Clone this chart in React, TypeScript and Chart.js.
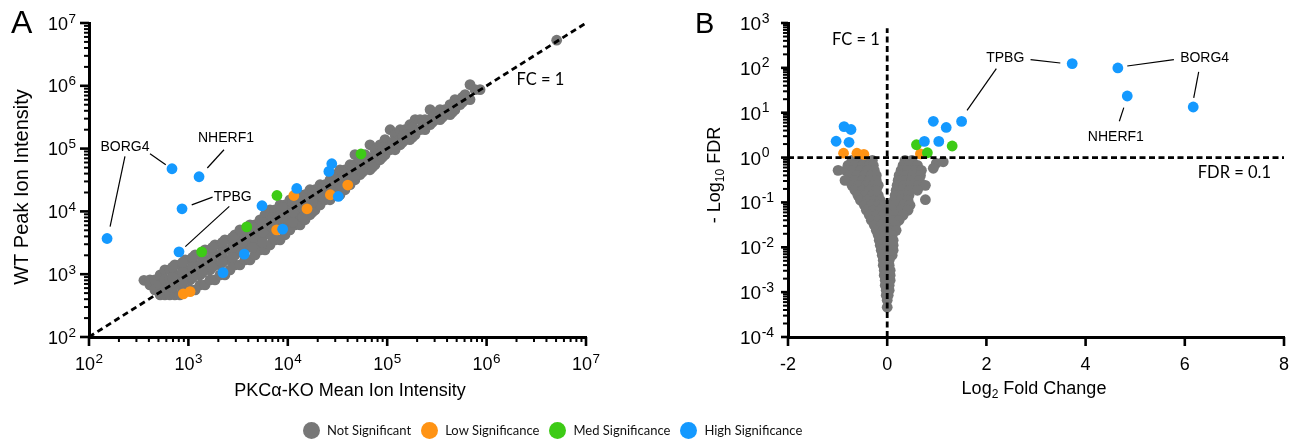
import React, { useEffect, useRef } from "react";
import { Chart, registerables } from "chart.js";

Chart.register(...registerables);

type Pt = [number, number];

// ---------- shared ----------
const SERIES_NAMES = ["Not Significant", "Low Significance", "Med Significance", "High Significance"];
const SERIES_COLORS = ["#777777", "#FF9314", "#3DCB16", "#1499FF"];

// ---------- panel A : WT vs PKCα-KO intensity ----------
const A_DECADES = [1e2, 1e3, 1e4, 1e5, 1e6, 1e7];
const A_DECADE_EXPONENTS = ["2", "3", "4", "5", "6", "7"];
const A_X_TITLE = "PKCα-KO Mean Ion Intensity";
const A_Y_TITLE = "WT Peak Ion Intensity";

const A_NOT_SIG: Pt[] = [
  [357, 800],
  [410, 811], [410, 675],
  [460, 811], [460, 562],
  [520, 975], [520, 675], [520, 468],
  [580, 1170], [580, 811], [580, 562], [580, 468],
  [650, 1170], [650, 811], [650, 562], [650, 468],
  [730, 1410], [730, 975], [730, 675], [730, 468],
  [820, 1410], [820, 975], [820, 675], [820, 468],
  [930, 1690], [930, 1170], [930, 811], [930, 562],
  [1040, 1690], [1040, 1170], [1040, 811], [1040, 562],
  [1170, 2030], [1170, 1410], [1170, 975], [1170, 562],
  [1310, 2030], [1310, 1410], [1310, 975], [1310, 675],
  [1470, 2440], [1470, 1690], [1470, 1170], [1470, 675],
  [1650, 2440], [1650, 1690], [1650, 1170], [1650, 811],
  [1850, 2930], [1850, 2030], [1850, 1410], [1850, 811],
  [2080, 2930], [2080, 2030], [2080, 1410], [2080, 975],
  [2330, 3520], [2330, 2440], [2330, 1690], [2330, 975],
  [2620, 3520], [2620, 2440], [2620, 1690], [2620, 1170],
  [2940, 4240], [2940, 2930], [2940, 2030], [2940, 1410],
  [3300, 5090], [3300, 3520], [3300, 2440], [3300, 1410],
  [3710, 5090], [3710, 3520], [3710, 2440], [3710, 1690],
  [4170, 6110], [4170, 4240], [4170, 2930], [4170, 1690],
  [4680, 6110], [4680, 4240], [4680, 2930], [4680, 2030],
  [5250, 7350], [5250, 5090], [5250, 3520], [5250, 2440],
  [5900, 8830], [5900, 6110], [5900, 4240], [5900, 2440],
  [6620, 10600], [6620, 7350], [6620, 5090], [6620, 2930],
  [7430, 10600], [7430, 7350], [7430, 5090], [7430, 3520],
  [8360, 12700], [8360, 8830], [8360, 6110], [8360, 3520],
  [9380, 12700], [9380, 8830], [9380, 6110], [9380, 4240],
  [10500, 15300], [10500, 10600], [10500, 7350], [10500, 5090],
  [11800, 15300], [11800, 10600], [11800, 7350], [11800, 6110],
  [13300, 18400], [13300, 12700], [13300, 8830], [13300, 6110],
  [14900, 18400], [14900, 12700], [14900, 8830], [14900, 7350],
  [16700, 22100], [16700, 15300], [16700, 10600], [16700, 8830],
  [18800, 22100], [18800, 15300], [18800, 10600],
  [21100, 26600], [21100, 18400], [21100, 12700],
  [23700, 26600], [23700, 18400], [23700, 15300],
  [26600, 31900], [26600, 22100], [26600, 15300],
  [29900, 38400], [29900, 26600], [29900, 18400],
  [33500, 46000], [33500, 31900], [33500, 22100], [33500, 18400],
  [37600, 46000], [37600, 31900], [37600, 22100],
  [42300, 55300], [42300, 38400], [42300, 26600],
  [47400, 80000], [47400, 55300], [47400, 38400], [47400, 31900],
  [53200, 66500], [53200, 46000], [53200, 38400],
  [59800, 80000], [59800, 55300], [59800, 46000],
  [67100, 115000], [67100, 66500], [67100, 46000],
  [75300, 95900], [75300, 66500], [75300, 55300],
  [84700, 115000], [84700, 80000], [84700, 66500],
  [95100, 139000], [95100, 95900], [95100, 80000],
  [107000, 200000], [107000, 115000], [107000, 95900],
  [120000, 167000], [120000, 115000], [120000, 95900],
  [135000, 200000], [135000, 139000], [135000, 115000],
  [151000, 200000], [151000, 167000], [151000, 139000],
  [169000, 240000], [169000, 167000], [169000, 139000],
  [191000, 289000], [191000, 200000], [191000, 167000],
  [214000, 289000], [214000, 200000],
  [240000, 289000], [240000, 200000],
  [270000, 417000], [270000, 289000], [270000, 240000],
  [303000, 348000], [303000, 289000],
  [340000, 417000], [340000, 289000],
  [381000, 417000], [381000, 348000],
  [429000, 501000], [429000, 348000],
  [481000, 603000], [481000, 417000],
  [540000, 603000], [540000, 501000],
  [607000, 724000], [607000, 603000],
  [681000, 1045000], [681000, 603000],
  [764000, 869000],
  [859000, 869000],
  [5070000, 5320000],
  // in-between fill points of the dense band
  [690, 1290], [690, 890], [690, 615],
  [875, 1540], [875, 1070], [875, 740],
  [1100, 1850], [1100, 1290], [1100, 890],
  [1390, 2230], [1390, 1540], [1390, 1070],
  [1750, 2680], [1750, 1850], [1750, 1290],
  [2200, 3220], [2200, 2230], [2200, 1540],
  [2780, 3870], [2780, 2680], [2780, 1850],
  [3500, 4650], [3500, 3220], [3500, 2230],
  [4420, 5580], [4420, 3870], [4420, 2680],
  [5570, 6710], [5570, 4650], [5570, 3220],
  [7020, 8060], [7020, 5580], [7020, 3870],
  [8860, 11600], [8860, 8060], [8860, 5580],
  [11200, 13900], [11200, 9680], [11200, 6710],
  [14100, 16800], [14100, 11600], [14100, 8060],
  [17700, 20200], [17700, 13900], [17700, 9680],
  [22400, 24200], [22400, 16800],
  [28200, 29100], [28200, 20200],
  [35500, 42000], [35500, 24200],
  [44800, 50400], [44800, 35000],
  [56400, 60700], [56400, 42000],
  [71100, 72900], [71100, 50400],
  [89700, 105000], [89700, 72900],
  [113000, 127000], [113000, 105000],
  [143000, 152000], [143000, 127000],
  [180000, 219000], [180000, 152000],
  [227000, 263000], [227000, 219000],
  [286000, 316000], [286000, 263000],
  [360000, 380000], [360000, 316000],
  [454000, 457000], [454000, 380000],
  [573000, 660000], [573000, 549000],
];
const A_LOW_SIG: Pt[] = [[889, 485], [1040, 528], [7730, 5090], [11500, 17900], [15600, 11000], [26800, 18400], [40100, 26300]];
const A_MED_SIG: Pt[] = [[1360, 2270], [3860, 5680], [7780, 17900], [54500, 82000]];
const A_HIGH_SIG: Pt[] = [
  [152, 3700], [684, 47800], [1280, 35600], [863, 11000], [804, 2270], [2230, 1060], [3650, 2090],
  [5500, 12300], [8870, 5220], [12300, 23200], [25900, 43300], [27700, 57400], [32200, 17300],
];
const A_FC_LINE: Pt[] = [[1e2, 1e2], [1e7, 1e7]];
const A_GENE_LABELS = [
  { text: "BORG4", x: 230, y: 107000 },
  { text: "NHERF1", x: 2390, y: 149000 },
  { text: "TPBG", x: 2790, y: 17100 },
];
const A_NOTE_LABELS = [{ text: "FC = 1", x: 3.48e6, y: 1.26e6 }];
const A_LEADERS: [Pt, Pt][] = [
  [[411, 83000], [592, 55300]],
  [[230, 75200], [163, 5740]],
  [[2280, 95900], [1550, 49100]],
  [[1750, 16900], [1080, 12700]],
  [[2580, 12000], [931, 2750]],
];

// ---------- panel B : volcano ----------
const B_X_TICKS = [-2, 0, 2, 4, 6, 8];
const B_DECADES = [1e-4, 1e-3, 1e-2, 1e-1, 1e0, 1e1, 1e2, 1e3];
const B_DECADE_EXPONENTS = ["-4", "-3", "-2", "-1", "0", "1", "2", "3"];
const B_NOT_SIG: Pt[] = [
  [-0.71, 0.87], [-0.57, 0.87], [-0.42, 0.87], [-0.30, 0.87], [0.36, 0.87], [0.50, 0.87],
  [-0.79, 0.67], [-0.65, 0.67], [-0.50, 0.67], [-0.36, 0.67], [-0.28, 0.67], [0.32, 0.67], [0.46, 0.67], [0.61, 0.67],
  [-0.99, 0.52], [-0.83, 0.52], [-0.69, 0.52], [-0.54, 0.52], [-0.40, 0.52], [-0.26, 0.52], [0.28, 0.52], [0.42, 0.52], [0.57, 0.52], [0.69, 0.52],
  [-0.75, 0.40], [-0.61, 0.40], [-0.46, 0.40], [-0.32, 0.40], [-0.22, 0.40], [0.24, 0.40], [0.38, 0.40], [0.52, 0.40], [0.67, 0.40],
  [-0.85, 0.31], [-0.65, 0.31], [-0.50, 0.31], [-0.36, 0.31], [-0.22, 0.31], [0.22, 0.31], [0.36, 0.31], [0.50, 0.31], [0.65, 0.31],
  [-0.71, 0.24], [-0.57, 0.24], [-0.42, 0.24], [-0.28, 0.24], [-0.18, 0.24], [0.20, 0.24], [0.34, 0.24], [0.48, 0.24], [0.63, 0.24], [0.77, 0.24],
  [-0.65, 0.187], [-0.50, 0.187], [-0.36, 0.187], [-0.22, 0.187], [0.18, 0.187], [0.32, 0.187], [0.46, 0.187], [0.61, 0.187],
  [-0.59, 0.144], [-0.44, 0.144], [-0.30, 0.144], [-0.18, 0.144], [0.16, 0.144], [0.30, 0.144], [0.44, 0.144],
  [-0.54, 0.112], [-0.40, 0.112], [-0.26, 0.112], [-0.14, 0.112], [0.14, 0.112], [0.28, 0.112], [0.42, 0.112], [0.77, 0.115],
  [-0.46, 0.0865], [-0.32, 0.0865], [-0.18, 0.0865], [-0.06, 0.0865], [0.06, 0.0865], [0.20, 0.0865], [0.34, 0.0865], [0.46, 0.0865],
  [-0.42, 0.0669], [-0.28, 0.0669], [-0.14, 0.0669], [0, 0.0669], [0.14, 0.0669], [0.28, 0.0669], [0.42, 0.0669],
  [-0.36, 0.0518], [-0.22, 0.0518], [-0.08, 0.0518], [0.06, 0.0518], [0.20, 0.0518], [0.32, 0.0518],
  [-0.32, 0.040], [-0.18, 0.040], [-0.04, 0.040], [0.10, 0.040], [0.24, 0.040],
  [-0.26, 0.031], [-0.12, 0.031], [0.02, 0.031], [0.16, 0.031],
  [-0.22, 0.0239], [-0.08, 0.0239], [0.06, 0.0239], [0.18, 0.0239],
  [-0.18, 0.0185], [-0.04, 0.0185], [0.10, 0.0185],
  [-0.16, 0.0143], [-0.02, 0.0143], [0.12, 0.0143],
  [-0.14, 0.0111], [0, 0.0111], [0.12, 0.0111],
  [-0.12, 0.00858], [0, 0.00858], [0.12, 0.00858],
  [-0.10, 0.00664], [0.02, 0.00664], [0.10, 0.00664],
  [-0.08, 0.00513], [0.04, 0.00513],
  [-0.08, 0.00397], [0.04, 0.00397],
  [-0.06, 0.00307], [0.06, 0.00307],
  [-0.06, 0.00238], [0.06, 0.00238],
  [-0.04, 0.00184], [0.06, 0.00184],
  [-0.04, 0.00142], [0.04, 0.00142],
  [-0.02, 0.0011], [0.04, 0.0011],
  [-0.02, 0.00085], [0.02, 0.00085],
  [0, 0.00066],
  [0, 0.00046],
  [0.99, 0.746], [1.13, 0.806], [0.93, 0.577],
];
const B_LOW_SIG: Pt[] = [[-0.88, 1.25], [-0.61, 1.25], [-0.47, 1.18], [0.67, 1.21]];
const B_MED_SIG: Pt[] = [[0.59, 1.93], [0.81, 1.28], [1.31, 1.81]];
const B_HIGH_SIG: Pt[] = [
  [-0.87, 4.91], [-0.73, 4.23], [-1.03, 2.31], [-0.77, 2.19], [0.93, 6.44], [1.19, 4.69], [1.5, 6.41],
  [0.75, 2.29], [1.04, 2.29], [3.73, 124.6], [4.65, 99.4], [4.84, 23.6], [6.17, 13.4],
];
const B_FC_LINE: Pt[] = [[0, 1e-4], [0, 760]];
const B_FDR_LINE: Pt[] = [[-2, 1], [8, 1]];
const B_GENE_LABELS = [
  { text: "TPBG", x: 2.38, y: 163 },
  { text: "BORG4", x: 6.4, y: 163 },
  { text: "NHERF1", x: 4.61, y: 2.88 },
];
const B_NOTE_LABELS = [
  { text: "FC = 1", x: -0.63, y: 434 },
  { text: "FDR = 0.1", x: 7.0, y: 0.47 },
];
const B_LEADERS: [Pt, Pt][] = [
  [[2.89, 153], [3.49, 128.5]],
  [[2.2, 96.4], [1.61, 11.3]],
  [[4.84, 110], [5.78, 153]],
  [[6.28, 81], [6.18, 21.3]],
  [[4.77, 13.0], [4.68, 6.45]],
];

// ---------- drawing helpers ----------
const ARIAL = '"Liberation Sans", Arial, Helvetica, sans-serif';
const MYRIAD = 'Lato, "Open Sans", sans-serif';

const toXY = (arr: Pt[]) => arr.map(([x, y]) => ({ x, y }));

function pointSet(i: number, data: Pt[]) {
  return {
    type: "scatter",
    label: SERIES_NAMES[i],
    data: toXY(data),
    backgroundColor: SERIES_COLORS[i],
    borderColor: SERIES_COLORS[i],
    borderWidth: 0,
    pointRadius: 5.4,
    pointHoverRadius: 5.4,
    order: 4 - i,
  };
}

function dashSet(data: Pt[], dash: number[]) {
  return {
    type: "line",
    label: "ref",
    data: toXY(data),
    borderColor: "#000",
    borderWidth: 2.8,
    borderDash: dash,
    pointRadius: 0,
    fill: false,
    showLine: true,
    order: 0,
  };
}

function line(ctx: CanvasRenderingContext2D, x1: number, y1: number, x2: number, y2: number, w: number) {
  ctx.lineWidth = w;
  ctx.beginPath();
  ctx.moveTo(x1, y1);
  ctx.lineTo(x2, y2);
  ctx.stroke();
}

function powerLabel(
  ctx: CanvasRenderingContext2D, exp: string, x: number, baseY: number, centered: boolean,
  baseSize: number, expSize: number, raise: number,
) {
  ctx.textAlign = "left";
  ctx.textBaseline = "alphabetic";
  ctx.font = `${baseSize}px ${ARIAL}`;
  const wb = ctx.measureText("10").width;
  ctx.font = `${expSize}px ${ARIAL}`;
  const we = ctx.measureText(exp).width;
  const left = centered ? x - (wb + we + 0.5) / 2 : x;
  ctx.font = `${baseSize}px ${ARIAL}`;
  ctx.fillText("10", left, baseY);
  ctx.font = `${expSize}px ${ARIAL}`;
  ctx.fillText(exp, left + wb + 0.5, baseY - raise);
}

type Part = { t: string; font: string; dy: number };
function richText(ctx: CanvasRenderingContext2D, parts: Part[], x: number, y: number, rot: number) {
  ctx.save();
  ctx.translate(x, y);
  if (rot) ctx.rotate(rot);
  ctx.textAlign = "left";
  ctx.textBaseline = "alphabetic";
  let total = 0;
  for (const p of parts) { ctx.font = p.font; total += ctx.measureText(p.t).width; }
  let cur = -total / 2;
  for (const p of parts) {
    ctx.font = p.font;
    ctx.fillText(p.t, cur, p.dy);
    cur += ctx.measureText(p.t).width;
  }
  ctx.restore();
}

function drawNotes(chart: any, genes: any[], notes: any[], leaders: [Pt, Pt][]) {
  const ctx: CanvasRenderingContext2D = chart.ctx;
  const xs = chart.scales.x, ys = chart.scales.y;
  ctx.textAlign = "center";
  ctx.textBaseline = "middle";
  ctx.font = `14px ${ARIAL}`;
  for (const g of genes) ctx.fillText(g.text, xs.getPixelForValue(g.x), ys.getPixelForValue(g.y));
  ctx.font = `16.5px ${MYRIAD}`;
  for (const n of notes) ctx.fillText(n.text, xs.getPixelForValue(n.x), ys.getPixelForValue(n.y));
  for (const [a, b] of leaders) {
    line(ctx, xs.getPixelForValue(a[0]), ys.getPixelForValue(a[1]), xs.getPixelForValue(b[0]), ys.getPixelForValue(b[1]), 1.2);
  }
}

const panelAPlugin = {
  id: "panelA",
  afterDraw(chart: any) {
    const ctx: CanvasRenderingContext2D = chart.ctx;
    const area = chart.chartArea;
    const xs = chart.scales.x, ys = chart.scales.y;
    ctx.save();
    ctx.strokeStyle = "#000";
    ctx.fillStyle = "#000";
    ctx.lineCap = "butt";
    A_DECADES.forEach((d, i) => {
      const px = xs.getPixelForValue(d), py = ys.getPixelForValue(d);
      line(ctx, px, area.bottom, px, area.bottom + 9, 2.6);
      line(ctx, area.left, py, area.left - 9, py, 2.6);
      if (i < A_DECADES.length - 1) {
        for (let k = 2; k <= 9; k++) {
          const mx = xs.getPixelForValue(d * k), my = ys.getPixelForValue(d * k);
          line(ctx, mx, area.bottom, mx, area.bottom + 5, 2);
          line(ctx, area.left, my, area.left - 5, my, 2);
        }
      }
      powerLabel(ctx, A_DECADE_EXPONENTS[i], px, area.bottom + 33, true, 18, 13.5, 7);
      powerLabel(ctx, A_DECADE_EXPONENTS[i], area.left - 41, py + 6.5, false, 18, 13.5, 7);
    });
    // titles
    richText(ctx, [{ t: A_X_TITLE, font: `18px ${ARIAL}`, dy: 0 }], 350, 396, 0);
    richText(ctx, [{ t: A_Y_TITLE, font: `20px ${ARIAL}`, dy: 0 }], 28, 187, -Math.PI / 2);
    ctx.font = `32px ${ARIAL}`;
    ctx.textAlign = "left";
    ctx.textBaseline = "alphabetic";
    ctx.fillText("A", 11, 33);
    drawNotes(chart, A_GENE_LABELS, A_NOTE_LABELS, A_LEADERS);
    ctx.restore();
  },
};

const panelBPlugin = {
  id: "panelB",
  afterDraw(chart: any) {
    const ctx: CanvasRenderingContext2D = chart.ctx;
    const area = chart.chartArea;
    const xs = chart.scales.x, ys = chart.scales.y;
    ctx.save();
    ctx.strokeStyle = "#000";
    ctx.fillStyle = "#000";
    ctx.lineCap = "butt";
    B_DECADES.forEach((d, i) => {
      const py = ys.getPixelForValue(d);
      line(ctx, area.left, py, area.left - 7, py, 2.6);
      if (i < B_DECADES.length - 1) {
        for (let k = 2; k <= 9; k++) {
          const my = ys.getPixelForValue(d * k);
          line(ctx, area.left, my, area.left - 5, my, 2);
        }
      }
      powerLabel(ctx, B_DECADE_EXPONENTS[i], area.left - 48, py + 7, false, 19, 14, 7.5);
    });
    ctx.textAlign = "center";
    ctx.textBaseline = "alphabetic";
    B_X_TICKS.forEach((v) => {
      const px = xs.getPixelForValue(v);
      line(ctx, px, area.bottom, px, area.bottom + 9, 2.6);
      ctx.font = `18px ${ARIAL}`;
      ctx.fillText(String(v), px, area.bottom + 33);
    });
    // titles
    richText(ctx, [
      { t: "Log", font: `18px ${ARIAL}`, dy: 0 },
      { t: "2", font: `12px ${ARIAL}`, dy: 4 },
      { t: " Fold Change", font: `18px ${ARIAL}`, dy: 0 },
    ], (area.left + area.right) / 2 - 2, 394, 0);
    richText(ctx, [
      { t: "- Log", font: `18px ${ARIAL}`, dy: 0 },
      { t: "10", font: `12px ${ARIAL}`, dy: 4 },
      { t: " FDR", font: `18px ${ARIAL}`, dy: 0 },
    ], area.left - 68, 175, -Math.PI / 2);
    ctx.font = `29px ${ARIAL}`;
    ctx.textAlign = "left";
    ctx.textBaseline = "alphabetic";
    ctx.fillText("B", area.left - 93, 33);
    drawNotes(chart, B_GENE_LABELS, B_NOTE_LABELS, B_LEADERS);
    ctx.restore();
  },
};

function axisBase(type: string, min: number, max: number, fit: (s: any) => void) {
  return {
    type,
    min,
    max,
    grid: { display: false },
    border: { display: true, color: "#000", width: 3 },
    ticks: { display: false },
    title: { display: false },
    afterFit: fit,
  };
}

const A_W = 645;
const B_W = 646;
const H = 441;

export default function App() {
  const aRef = useRef<HTMLCanvasElement | null>(null);
  const bRef = useRef<HTMLCanvasElement | null>(null);

  useEffect(() => {
    const common = {
      responsive: false,
      animation: false,
      events: [],
      plugins: { legend: { display: false }, tooltip: { enabled: false } },
    };
    const chartA = new Chart(aRef.current as HTMLCanvasElement, {
      type: "scatter",
      data: {
        datasets: [
          dashSet(A_FC_LINE, [6, 4]),
          pointSet(3, A_HIGH_SIG),
          pointSet(2, A_MED_SIG),
          pointSet(1, A_LOW_SIG),
          pointSet(0, A_NOT_SIG),
        ] as any,
      },
      options: {
        ...common,
        layout: { autoPadding: false, padding: { left: 0, top: 23, right: A_W - 586, bottom: 0 } },
        scales: {
          x: axisBase("logarithmic", 1e2, 1e7, (s: any) => { s.height = H - 337; }),
          y: axisBase("logarithmic", 1e2, 1e7, (s: any) => { s.width = 89; }),
        },
      } as any,
      plugins: [panelAPlugin],
    });
    const chartB = new Chart(bRef.current as HTMLCanvasElement, {
      type: "scatter",
      data: {
        datasets: [
          dashSet(B_FC_LINE, [6, 3.5]),
          dashSet(B_FDR_LINE, [6, 3.5]),
          pointSet(3, B_HIGH_SIG),
          pointSet(2, B_MED_SIG),
          pointSet(1, B_LOW_SIG),
          pointSet(0, B_NOT_SIG),
        ] as any,
      },
      options: {
        ...common,
        layout: { autoPadding: false, padding: { left: 0, top: 23, right: B_W - (1284 - A_W), bottom: 0 } },
        scales: {
          x: axisBase("linear", -2, 8, (s: any) => { s.height = H - 337; }),
          y: axisBase("logarithmic", 1e-4, 1e3, (s: any) => { s.width = 788 - A_W; }),
        },
      } as any,
      plugins: [panelBPlugin],
    });
    return () => {
      chartA.destroy();
      chartB.destroy();
    };
  }, []);

  return (
    <div style={{ position: "fixed", left: 0, top: 0, width: 1291, height: H, background: "#fff", overflow: "hidden" }}>
      <canvas ref={aRef} width={A_W} height={H} style={{ position: "absolute", left: 0, top: 0 }} />
      <canvas ref={bRef} width={B_W} height={H} style={{ position: "absolute", left: A_W, top: 0 }} />
      <div
        style={{
          position: "absolute", left: 303, top: 421, height: 18, display: "flex", alignItems: "center",
          fontFamily: MYRIAD, fontSize: 13, color: "#111", whiteSpace: "nowrap",
        }}
      >
        {SERIES_NAMES.map((name, i) => (
          <div key={name} style={{ display: "flex", alignItems: "center", marginRight: 10 }}>
            <span style={{ width: 17, height: 17, borderRadius: "50%", background: SERIES_COLORS[i], display: "inline-block", marginRight: 7 }} />
            <span style={{ lineHeight: "18px" }}>{name}</span>
          </div>
        ))}
      </div>
    </div>
  );
}
